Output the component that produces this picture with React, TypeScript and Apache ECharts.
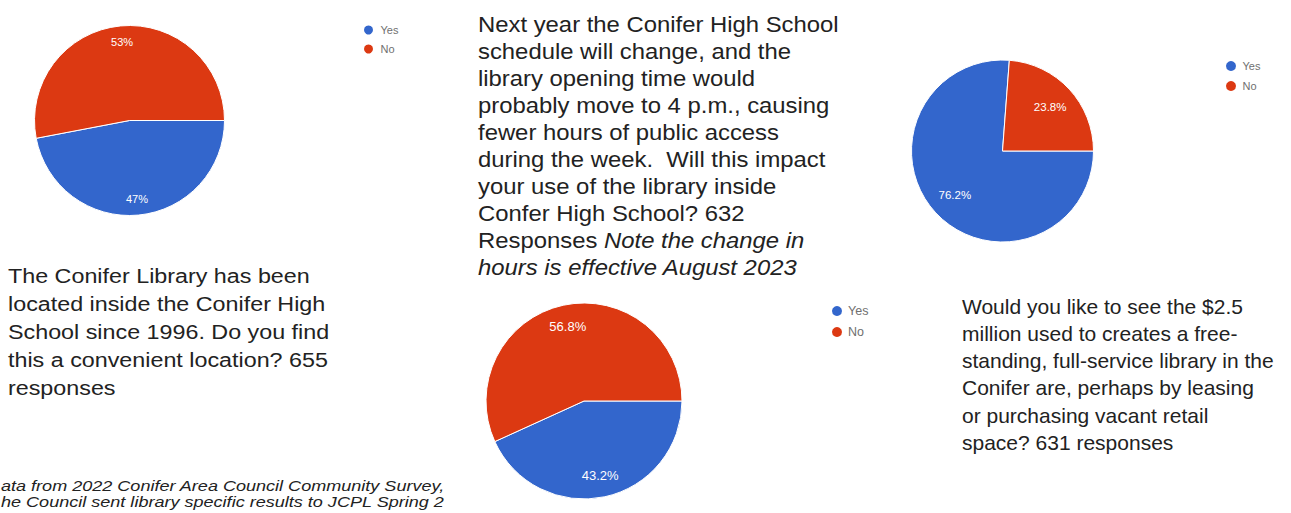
import React, { useEffect, useRef } from "react";
import * as echarts from "echarts";

// ---- data ----
const categories = ["Yes", "No"];
const locationValues = [47, 53];
const scheduleValues = [43.2, 56.8];
const freeStandingValues = [76.2, 23.8];

const locationQuestion = [
  "The Conifer Library has been",
  "located inside the Conifer High",
  "School since 1996. Do you find",
  "this a convenient location? 655",
  "responses",
];
const scheduleQuestionPlain = [
  "Next year the Conifer High School",
  "schedule will change, and the",
  "library opening time would",
  "probably move to 4 p.m., causing",
  "fewer hours of public access",
  "during the week.  Will this impact",
  "your use of the library inside",
  "Confer High School? 632",
];
const scheduleLine9Plain = "Responses ";
const scheduleLine9Italic = "Note the change in";
const scheduleLine10Italic = "hours is effective August 2023";
const freeStandingQuestion = [
  "Would you like to see the $2.5",
  "million used to creates a free-",
  "standing, full-service library in the",
  "Conifer are, perhaps by leasing",
  "or purchasing vacant retail",
  "space? 631 responses",
];
const sourceNote = [
  "ata from 2022 Conifer Area Council Community Survey,",
  "he Council sent library specific results to JCPL Spring 2",
];

const BLUE = "#3366cc";
const RED = "#dc3912";
const FONT = "'Liberation Sans', Arial, sans-serif";
const TEXT = "#222222";

function pieData(values: number[]) {
  return categories.map((name, i) => ({
    name,
    value: values[i],
    itemStyle: { color: i === 0 ? BLUE : RED },
  }));
}

function pieSeries(values: number[], center: number[], r: number, r0: number, fontSize: number) {
  return [
    {
      type: "pie",
      center,
      radius: [0, r],
      startAngle: 0,
      clockwise: true,
      silent: true,
      data: pieData(values),
      label: { show: false },
      labelLine: { show: false },
      itemStyle: { borderColor: "#ffffff", borderWidth: 1 },
      emphasis: { disabled: true },
    },
    {
      type: "pie",
      center,
      radius: [r0, r],
      startAngle: 0,
      clockwise: true,
      silent: true,
      data: categories.map((name, i) => ({
        name,
        value: values[i],
        itemStyle: { color: "rgba(0,0,0,0)" },
      })),
      label: {
        show: true,
        position: "inside",
        formatter: (p: any) => `${p.value}%`,
        color: "#ffffff",
        fontSize,
        fontFamily: FONT,
      },
      labelLine: { show: false },
      emphasis: { disabled: true },
    },
  ];
}

function legend(left: number, top: number, w: number, h: number, gap: number, fontSize: number) {
  return {
    orient: "vertical",
    left,
    top,
    padding: 0,
    itemWidth: w,
    itemHeight: h,
    itemGap: gap,
    icon: "circle",
    selectedMode: false,
    textStyle: { fontSize, color: "#707070", fontFamily: FONT },
    data: categories.map((name, i) => ({
      name,
      itemStyle: { color: i === 0 ? BLUE : RED },
    })),
  };
}

export default function App() {
  const ref = useRef<HTMLDivElement>(null);
  useEffect(() => {
    document.body.style.margin = "0";
    const chart = echarts.init(ref.current!, null, { renderer: "svg" });
    const scheduleRich =
      scheduleQuestionPlain.map((l) => `{n|${l}}`).join("\n") +
      `\n{n|${scheduleLine9Plain}}{i|${scheduleLine9Italic}}\n{i|${scheduleLine10Italic}}`;
    chart.setOption({
      animation: false,
      backgroundColor: "#ffffff",
      legend: [
        legend(362, 23.5, 14, 11, 6, 11),
        legend(830, 304, 12, 12, 7, 12.5),
        legend(1224, 59, 13, 12, 6, 11),
      ],
      series: [
        ...pieSeries(locationValues, [129.5, 120.5], 95, 57, 11),
        ...pieSeries(scheduleValues, [584, 401], 98, 49, 13),
        ...pieSeries(freeStandingValues, [1002.5, 151], 91, 33, 11.5),
      ],
      graphic: [
        {
          type: "text",
          x: 8,
          y: 262,
          scaleX: 1.11,
          silent: true,
          style: {
            text: locationQuestion.join("\n"),
            font: `21px ${FONT}`,
            fill: TEXT,
            lineHeight: 28,
            verticalAlign: "top",
          },
        },
        {
          type: "text",
          x: 478,
          y: 11,
          scaleX: 1.11,
          silent: true,
          style: {
            text: scheduleRich,
            font: `21.5px ${FONT}`,
            fill: TEXT,
            lineHeight: 27,
            verticalAlign: "top",
            rich: {
              n: { fontSize: 21.5, fontFamily: FONT, color: TEXT, lineHeight: 27 },
              i: { fontSize: 21.5, fontFamily: FONT, color: TEXT, lineHeight: 27, fontStyle: "italic" },
            },
          },
        },
        {
          type: "text",
          x: 962,
          y: 292.4,
          scaleX: 1.0,
          silent: true,
          style: {
            text: freeStandingQuestion.join("\n"),
            font: `21px ${FONT}`,
            fill: TEXT,
            lineHeight: 27.3,
            verticalAlign: "top",
          },
        },
        {
          type: "text",
          x: 1,
          y: 477.5,
          scaleX: 1.29,
          silent: true,
          style: {
            text: sourceNote.join("\n"),
            font: `italic 14px ${FONT}`,
            fill: TEXT,
            lineHeight: 16.5,
            verticalAlign: "top",
          },
        },
      ],
    });
    return () => chart.dispose();
  }, []);
  return (
    <div
      ref={ref}
      style={{ position: "fixed", left: 0, top: 0, width: 1291, height: 513 }}
    />
  );
}
